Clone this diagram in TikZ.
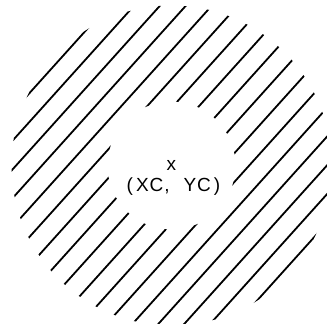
\documentclass[tikz,border=0pt]{standalone}
\usepackage{fontspec}
\setmainfont{Liberation Sans}
\usepackage{tikz}
\begin{document}
\begin{tikzpicture}[
    x=1pt, y=1pt,
    hatch/.style={line width=1.8pt, black},
    lbl/.style={font=\fontsize{19}{21}\selectfont\addfontfeature{LetterSpace=5}, inner sep=0pt},
  ]
  \useasboundingbox (-171.5,-158.5) rectangle (155.5,165.5);
  \node[lbl, anchor=center] (ctr) at (0,0) {x};
  \node[lbl, anchor=base] (xcyc) at (2,-26.2) {(\kern3pt XC,\hspace{14pt}YC\kern3pt)};
  \begin{scope}[even odd rule]
    \clip (ctr.center) circle (160pt) (ctr.center) circle (64pt);
    \foreach \k in {-8,...,8}
      \draw[hatch, rotate=48] (-170,19.25*\k) -- (170,19.25*\k);
  \end{scope}
\end{tikzpicture}
\end{document}
